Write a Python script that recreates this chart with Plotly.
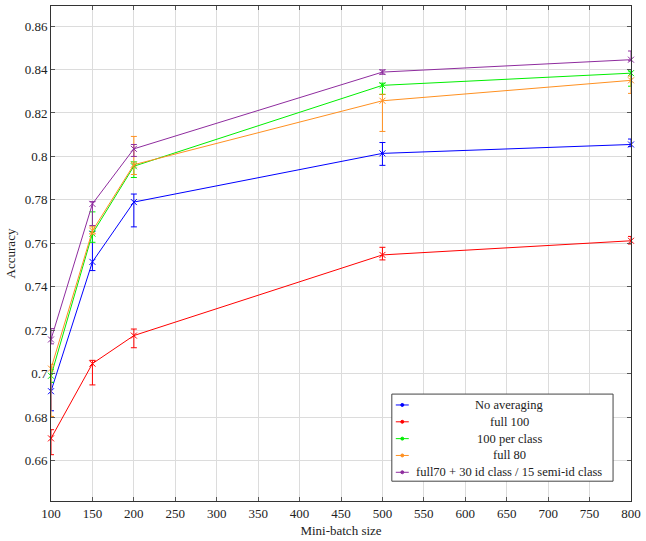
import plotly.graph_objects as go

# ---------------- data ----------------
batch = [100, 150, 200, 500, 800]

series_names = [
    "No averaging",
    "full 100",
    "100 per class",
    "full 80",
    "full70 + 30 id class / 15 semi-id class",
]
series_colors = ["#0000ff", "#ff0000", "#00ee00", "#ff9020", "#8e2c9e"]

no_avg = [0.692, 0.7515, 0.779, 0.8014, 0.8055]
no_avg_plus = [0.004, 0.014, 0.0037, 0.005, 0.0025]
no_avg_minus = [0.009, 0.004, 0.0114, 0.0055, 0.001]

full100 = [0.6703, 0.7047, 0.7176, 0.7547, 0.7612]
full100_plus = [0.004, 0.0015, 0.003, 0.0035, 0.002]
full100_minus = [0.0075, 0.0098, 0.0056, 0.0023, 0.0015]

per_class = [0.6991, 0.7645, 0.7955, 0.8327, 0.8383]
per_class_plus = [0.003, 0.010, 0.002, 0.001, 0.001]
per_class_minus = [0.003, 0.004, 0.0052, 0.0042, 0.006]

full80 = [0.7024, 0.7658, 0.7962, 0.8256, 0.835]
full80_plus = [0.002, 0.0018, 0.013, 0.003, 0.002]
full80_minus = [0.022, 0.0015, 0.0045, 0.0141, 0.006]

full70 = [0.7158, 0.7782, 0.8035, 0.8388, 0.8445]
full70_plus = [0.005, 0.001, 0.002, 0.001, 0.004]
full70_minus = [0.002, 0.010, 0.0035, 0.001, 0.0005]

x_ticks = [100, 150, 200, 250, 300, 350, 400, 450, 500, 550, 600, 650, 700, 750, 800]
y_ticks = [0.66, 0.68, 0.70, 0.72, 0.74, 0.76, 0.78, 0.80, 0.82, 0.84, 0.86]
y_tick_text = ["0.66", "0.68", "0.7", "0.72", "0.74", "0.76", "0.78", "0.8", "0.82", "0.84", "0.86"]

values = [no_avg, full100, per_class, full80, full70]
plus = [no_avg_plus, full100_plus, per_class_plus, full80_plus, full70_plus]
minus = [no_avg_minus, full100_minus, per_class_minus, full80_minus, full70_minus]

# ---------------- figure ----------------
W, H = 646, 541
ML, MR, MT, MB = 51, 13, 5, 36
PW, PH = W - ML - MR, H - MT - MB

FONT = "Liberation Serif, DejaVu Serif, serif"
FS = 13
LFS = 12.5

fig = go.Figure()
for name, col, v, p, m in zip(series_names, series_colors, values, plus, minus):
    fig.add_trace(go.Scatter(
        x=batch, y=v, name=name, mode="lines+markers",
        line=dict(color=col, width=1),
        marker=dict(symbol="x-thin", size=6, line=dict(color=col, width=1), color=col),
        error_y=dict(type="data", symmetric=False, array=p, arrayminus=m,
                     color=col, thickness=1, width=3),
        cliponaxis=False, showlegend=False,
    ))

# custom legend (pgfplots style, centred text)
def px(xp):
    return (xp - ML) / PW

def py(yp):
    return (H - MB - yp) / PH

shapes = [dict(type="rect", xref="paper", yref="paper",
               x0=px(393), x1=px(615), y0=py(485), y1=py(397),
               line=dict(color="#444", width=1), fillcolor="white", layer="above")]
annotations = []
row_y = [408, 425, 442, 459, 476]
for name, col, ry in zip(series_names, series_colors, row_y):
    shapes.append(dict(type="line", xref="paper", yref="paper",
                       x0=px(397), x1=px(410), y0=py(ry), y1=py(ry),
                       line=dict(color=col, width=1), layer="above"))
    shapes.append(dict(type="circle", xref="paper", yref="paper",
                       x0=px(402), x1=px(405), y0=py(ry - 1.5), y1=py(ry + 1.5),
                       line=dict(color=col, width=1), fillcolor=col, layer="above"))
    annotations.append(dict(text=name, xref="paper", yref="paper",
                            x=px(511), y=py(ry), xanchor="center", yanchor="middle",
                            showarrow=False, font=dict(family=FONT, size=LFS, color="#222")))

axis_common = dict(
    showline=True, linecolor="#333", linewidth=1, mirror="allticks",
    ticks="inside", ticklen=4, tickcolor="#555",
    showgrid=True, gridcolor="#dcdcdc", gridwidth=1, zeroline=False,
    tickfont=dict(family=FONT, size=FS, color="#222"),
)

fig.update_layout(
    width=W, height=H,
    margin=dict(l=ML, r=MR, t=MT, b=MB),
    paper_bgcolor="white", plot_bgcolor="white",
    font=dict(family=FONT, size=FS, color="#222"),
    xaxis=dict(range=[100, 800], tickvals=x_ticks,
               title=dict(text="Mini-batch size", font=dict(family=FONT, size=FS, color="#222"),
                          standoff=6),
               **axis_common),
    yaxis=dict(range=[0.6415, 0.8692], tickvals=y_ticks, ticktext=y_tick_text,
               title=dict(text="Accuracy", font=dict(family=FONT, size=FS, color="#222"),
                          standoff=6),
               **axis_common),
    shapes=shapes, annotations=annotations,
)

fig.write_html("out.html")
